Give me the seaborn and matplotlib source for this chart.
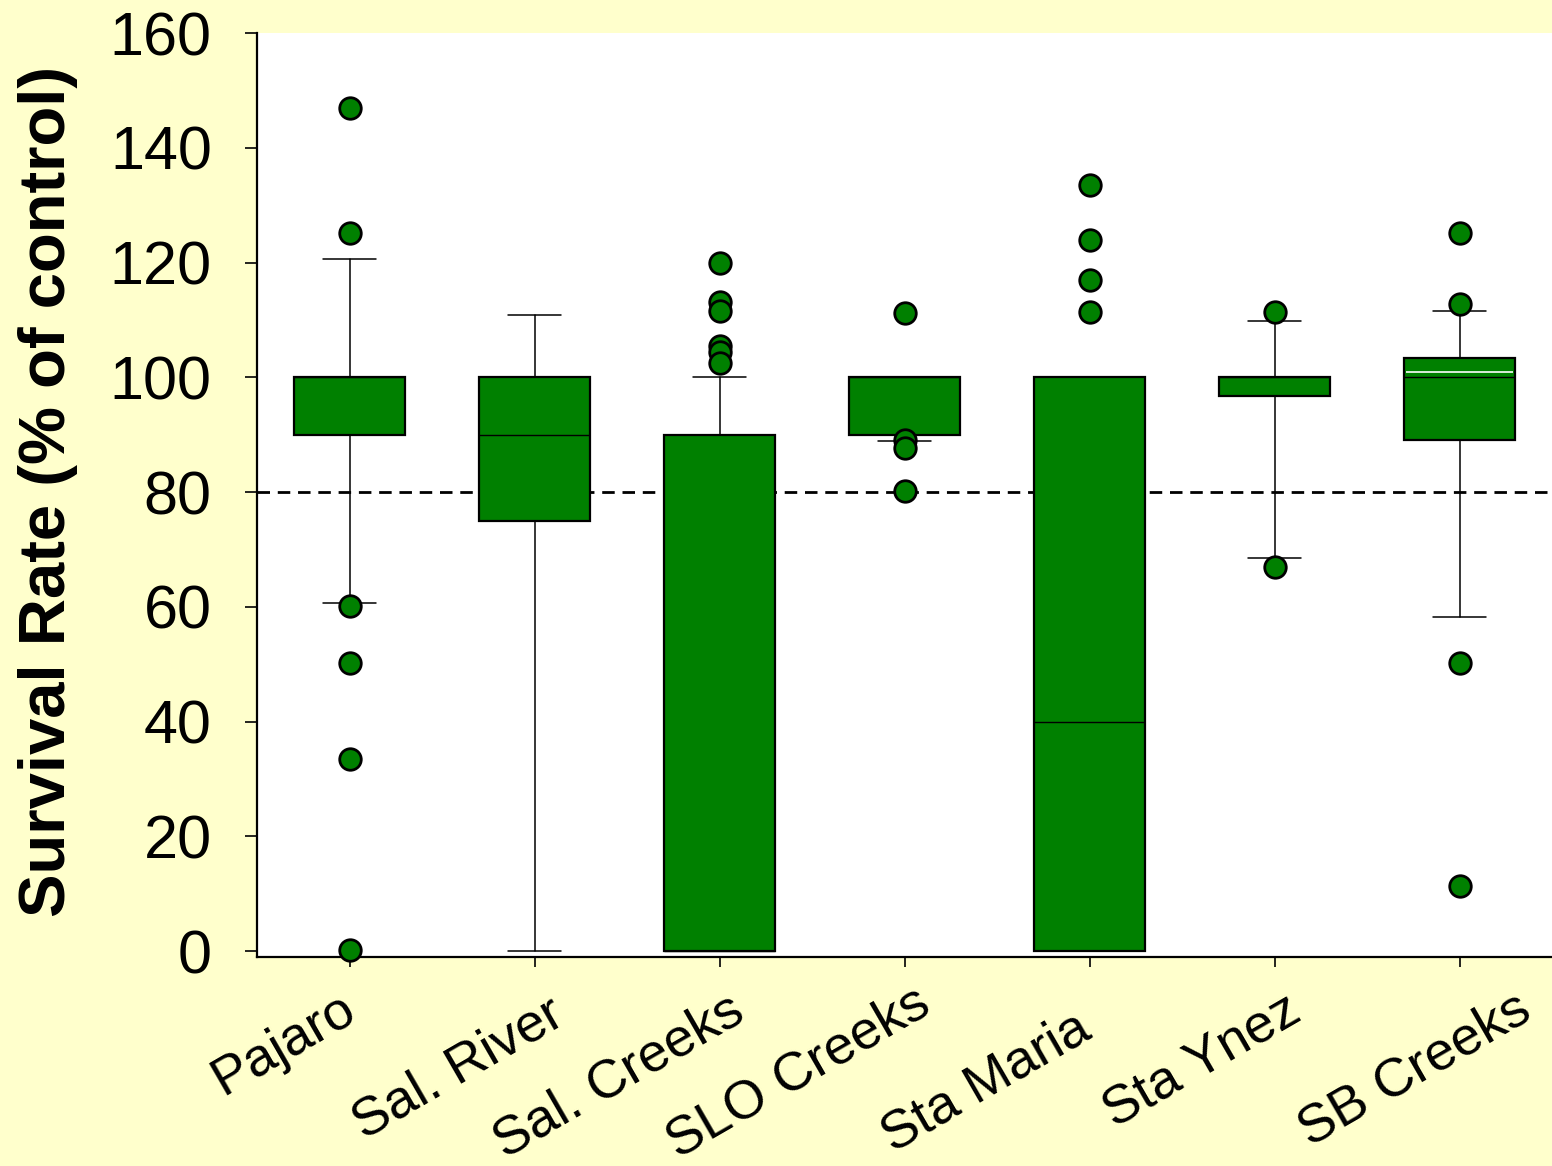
import numpy as np
import pandas as pd
import matplotlib
matplotlib.use("Agg")
import matplotlib.pyplot as plt
from matplotlib.transforms import ScaledTranslation
import seaborn as sns

# Sampling sites along the x axis
sites = ["Pajaro", "Sal. River", "Sal. Creeks", "SLO Creeks",
         "Sta Maria", "Sta Ynez", "SB Creeks"]

# Box statistics (survival, % of control)
whisker_low = [60.7, 0.0, 0.0, 88.9, 0.0, 68.6, 58.3]
quartile_1 = [90.0, 75.0, 0.0, 90.0, 0.0, 96.8, 89.1]
medians = [100.0, 90.0, 0.0, 100.0, 40.0, 100.0, 100.0]
quartile_3 = [100.0, 100.0, 90.0, 100.0, 100.0, 100.0, 103.3]
whisker_high = [120.7, 110.9, 100.0, 100.0, 100.0, 109.9, 111.6]

# Mean line shown inside the SB Creeks box
mean_lines = {"SB Creeks": 101.0}

# Points beyond the whiskers
outliers_pajaro = [147.0, 125.2, 60.2, 50.2, 33.5, 0.3]
outliers_sal_river = []
outliers_sal_creeks = [120.0, 113.2, 111.5, 105.4, 104.5, 102.5]
outliers_slo_creeks = [111.2, 89.1, 87.7, 80.2]
outliers_sta_maria = [133.6, 124.0, 117.0, 111.3]
outliers_sta_ynez = [111.3, 66.9]
outliers_sb_creeks = [125.2, 112.8, 50.3, 11.3]

# Toxicity threshold reference line
threshold = 80

y_ticks = [0, 20, 40, 60, 80, 100, 120, 140, 160]

outlier_lists = [outliers_pajaro, outliers_sal_river, outliers_sal_creeks,
                 outliers_slo_creeks, outliers_sta_maria, outliers_sta_ynez,
                 outliers_sb_creeks]

# Hand placement nudges for the slanted site labels (pixels: right, down)
label_nudges = [(-10, 3), (13, 8), (8, 4), (9, -3), (-15, 22), (10, 5), (55, 3)]

GREEN = "#008000"
BG = "#FFFFCC"

sns.set_theme(style="white")
plt.rcParams["font.family"] = ["Liberation Sans", "DejaVu Sans"]
plt.rcParams["text.color"] = "black"
plt.rcParams["axes.labelcolor"] = "black"
plt.rcParams["xtick.color"] = "black"
plt.rcParams["ytick.color"] = "black"

fig = plt.figure(figsize=(15.52, 11.66), dpi=100, facecolor=BG)
ax = fig.add_axes([257 / 1552, (1166 - 957) / 1166, (1552 - 257) / 1552, (957 - 33) / 1166])
ax.set_facecolor("white")

stats = []
for i, s in enumerate(sites):
    stats.append(dict(label=s, whislo=whisker_low[i], q1=quartile_1[i],
                      med=medians[i], q3=quartile_3[i], whishi=whisker_high[i],
                      fliers=[]))

ax.bxp(stats, positions=range(len(sites)), widths=0.6, capwidths=0.285,
       patch_artist=True, showfliers=False,
       boxprops=dict(facecolor=GREEN, edgecolor="black", linewidth=1.6),
       medianprops=dict(color="black", linewidth=1.0),
       whiskerprops=dict(color="black", linewidth=1.1),
       capprops=dict(color="black", linewidth=1.1),
       zorder=3)

# White mean line inside the box
for s, m in mean_lines.items():
    i = sites.index(s)
    ax.hlines(m, i - 0.29, i + 0.29, color="white", linewidth=1.2, zorder=4)

# Threshold line
ax.axhline(threshold, color="black", linewidth=2.0, dashes=(4.5, 2.8), zorder=2)

# Outlier points
out_df = pd.DataFrame(
    [(s, v) for s, vals in zip(sites, outlier_lists) for v in vals],
    columns=["site", "value"])
sns.stripplot(data=out_df, x="site", y="value", order=sites, jitter=False,
              color=GREEN, edgecolor="black", linewidth=2.0, size=15.5,
              ax=ax, zorder=6, clip_on=False)

ax.set_xlim(-0.5, 6.5)
ax.set_ylim(-1.0, 160)
ax.set_yticks(y_ticks)
ax.set_yticklabels([str(t) for t in y_ticks], fontsize=44, color="black")
ax.set_xticks(range(len(sites)))
ax.set_xticklabels([])

# Slanted site labels under the ticks
base = ax.get_xaxis_transform()
for i, (s, (dx, dy)) in enumerate(zip(sites, label_nudges)):
    tr = base + ScaledTranslation(dx / 100, -(17 / 72) - dy / 100,
                                  fig.dpi_scale_trans)
    ax.text(i, 0, s, transform=tr, fontsize=39, rotation=30,
            rotation_mode="anchor", ha="right", va="top", color="black",
            clip_on=False)

ax.set_xlabel("")
ax.set_ylabel("Survival Rate (% of control)", fontsize=47, fontweight="bold",
              va="center", color="black")
ax.yaxis.set_label_coords((48 - 257) / 1295, (957 - 491.5) / 924)

for side in ["top", "right"]:
    ax.spines[side].set_visible(False)
for side in ["left", "bottom"]:
    ax.spines[side].set_color("black")
    ax.spines[side].set_linewidth(1.6)

ax.tick_params(axis="y", which="major", direction="out", length=8.5,
               width=1.2, color="black", pad=24, left=True)
ax.tick_params(axis="x", which="major", direction="out", length=7,
               width=1.2, color="black", pad=10, bottom=True)

fig.savefig("out.png", dpi=100, facecolor=BG)
